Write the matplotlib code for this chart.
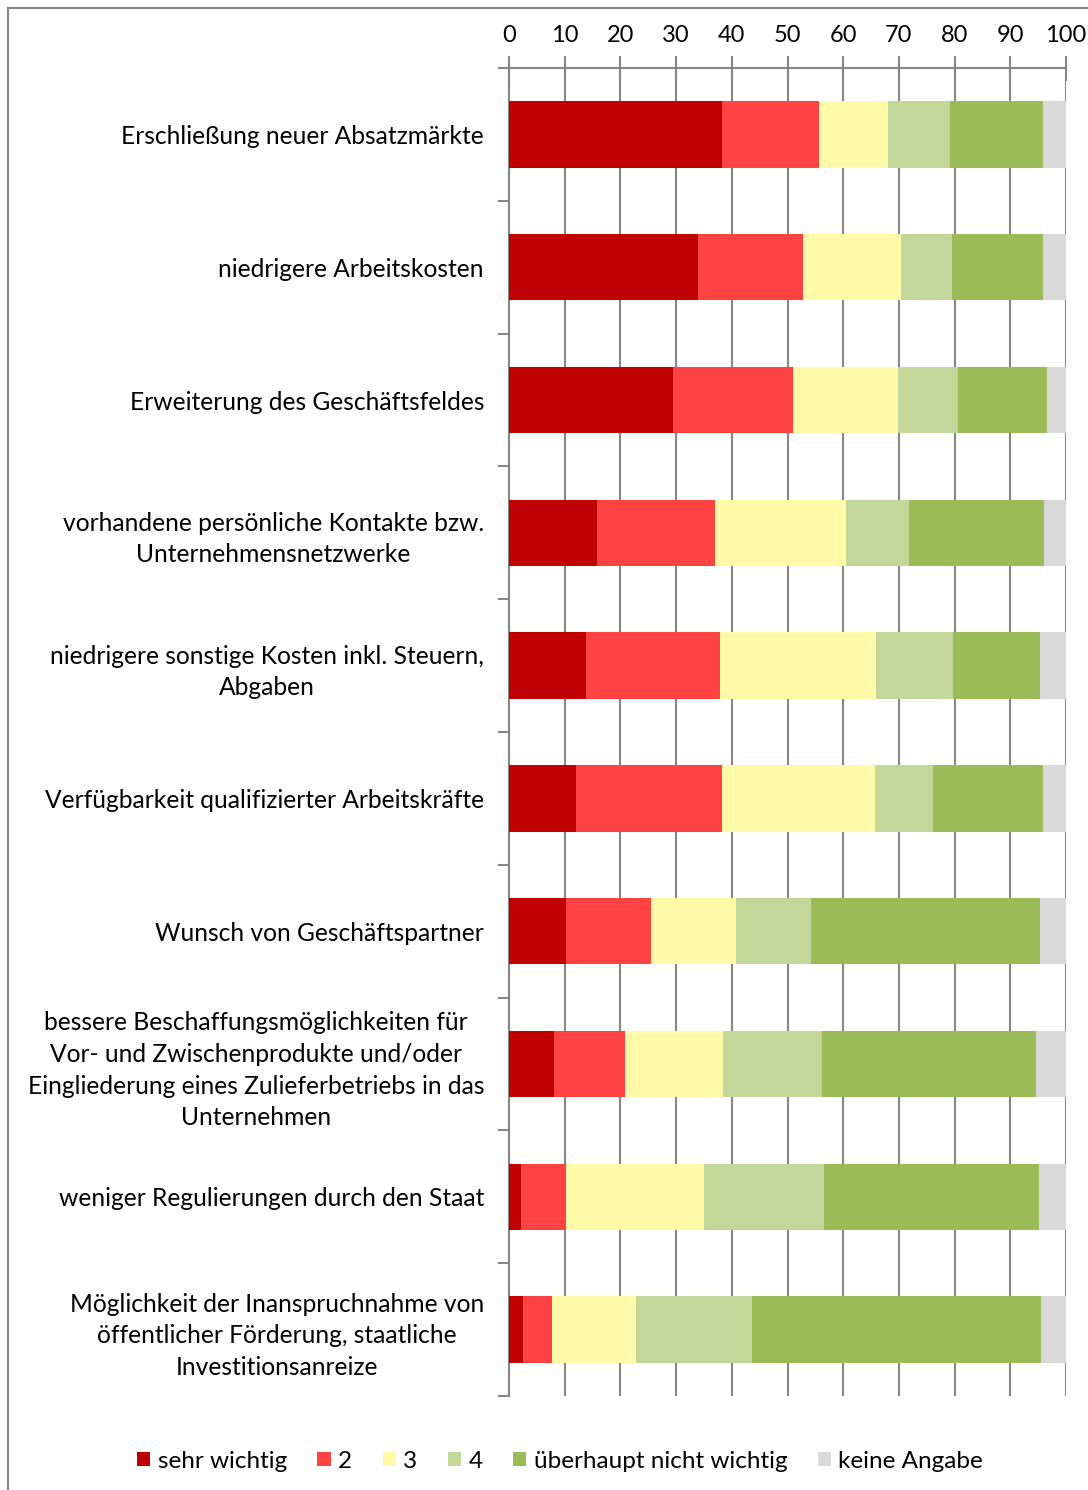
import numpy as np
import matplotlib
matplotlib.use('Agg')
import matplotlib.pyplot as plt
from matplotlib.lines import Line2D
from matplotlib.patches import Patch

categories = [
    'Erschließung neuer Absatzmärkte',
    'niedrigere Arbeitskosten',
    'Erweiterung des Geschäftsfeldes',
    'vorhandene persönliche Kontakte bzw.\nUnternehmensnetzwerke',
    'niedrigere sonstige Kosten inkl. Steuern,\nAbgaben',
    'Verfügbarkeit qualifizierter Arbeitskräfte',
    'Wunsch von Geschäftspartner',
    'bessere Beschaffungsmöglichkeiten für\nVor- und Zwischenprodukte und/oder\nEingliederung eines Zulieferbetriebs in das\nUnternehmen',
    'weniger Regulierungen durch den Staat',
    'Möglichkeit der Inanspruchnahme von\nöffentlicher Förderung, staatliche\nInvestitionsanreize',
]

series_names = ['sehr wichtig', '2', '3', '4', 'überhaupt nicht wichtig', 'keine Angabe']
sehr_wichtig = [38.2, 33.9, 29.4, 15.8, 13.8, 12.0, 10.2, 8.0, 2.2, 2.5]
wert_2 = [17.5, 18.8, 21.5, 21.2, 24.0, 26.3, 15.3, 12.8, 8.0, 5.3]
wert_3 = [12.4, 17.6, 18.9, 23.5, 28.1, 27.4, 15.2, 17.7, 24.8, 15.0]
wert_4 = [11.0, 9.2, 10.8, 11.4, 13.9, 10.4, 13.6, 17.7, 21.5, 20.8]
nicht_wichtig = [16.7, 16.3, 15.9, 24.1, 15.6, 19.7, 41.1, 38.5, 38.6, 52.0]
keine_angabe = [4.2, 4.2, 3.5, 4.0, 4.6, 4.2, 4.6, 5.3, 4.9, 4.4]

colors = ['#C00000', '#FF4343', '#FFF9A8', '#C4D79B', '#9BBB59', '#D9D9D9']

plt.rcParams['font.family'] = ['Lato', 'DejaVu Sans']

fig = plt.figure(figsize=(10.88, 14.90), dpi=100)
ax = fig.add_axes([509 / 1088, 1 - 1396 / 1490, 557 / 1088, 1328 / 1490])

y = np.arange(len(categories))
left = np.zeros(len(categories))
series = [sehr_wichtig, wert_2, wert_3, wert_4, nicht_wichtig, keine_angabe]
for name, vals, col in zip(series_names, series, colors):
    vals = np.array(vals)
    ax.barh(y, vals, left=left, height=0.5, color=col, label=name, zorder=3)
    left += vals

grid_col = '#868686'
ax.set_xlim(0, 100)
ax.set_ylim(len(categories) - 0.5, -0.5)
ax.set_xticks(np.arange(0, 101, 10))
ax.xaxis.tick_top()
ax.tick_params(axis='x', direction='inout', length=18, width=1.5, color=grid_col,
               labelsize=17, pad=7)
ax.grid(axis='x', color=grid_col, linewidth=1.5, zorder=0)

ax.set_yticks(y)
ax.set_yticklabels(categories, fontsize=17.7, multialignment='center', linespacing=1.45)
ax.tick_params(axis='y', length=0, pad=18)
ax.set_yticks(np.arange(-0.5, len(categories)), minor=True)
ax.tick_params(axis='y', which='minor', direction='out', length=8, width=1.5, color=grid_col)

for s in ['right', 'bottom']:
    ax.spines[s].set_visible(False)
ax.spines['top'].set_color(grid_col)
ax.spines['top'].set_linewidth(1.5)
ax.spines['left'].set_color(grid_col)
ax.spines['left'].set_linewidth(1.5)

handles = [Patch(facecolor=c, label=n) for n, c in zip(series_names, colors)]
fig.legend(handles=handles, loc='center', bbox_to_anchor=(560 / 1088, 1 - 1461 / 1490),
           ncol=6, frameon=False, fontsize=17.5, handlelength=0.55, handleheight=0.55,
           handletextpad=0.3, columnspacing=1.25)

# outer chart frame (partly cut off in the original)
fig.add_artist(Line2D([8 / 1088, 8 / 1088], [0, 1 - 8 / 1490], color=grid_col, lw=1.5))
fig.add_artist(Line2D([8 / 1088, 1], [1 - 8 / 1490, 1 - 8 / 1490], color=grid_col, lw=1.5))

fig.savefig('out.png', dpi=100)
